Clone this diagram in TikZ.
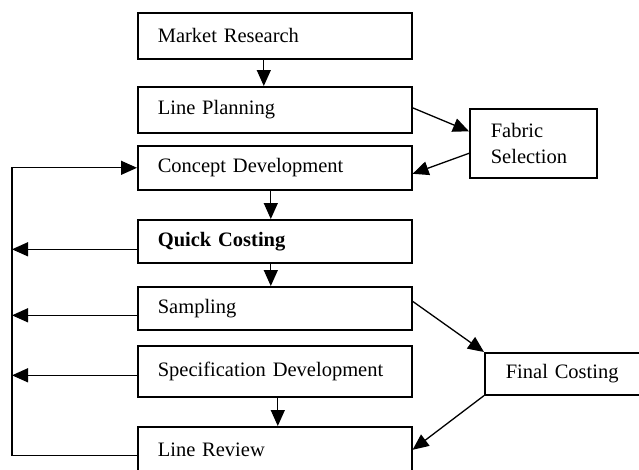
\documentclass[tikz,border=0pt]{standalone}
\usepackage{fontspec}
\setmainfont{Liberation Serif}
\usepackage{tikz}
\usetikzlibrary{arrows.meta, positioning}

\begin{document}
\begin{tikzpicture}[
    x=1pt, y=-1pt,
    every node/.style={
    font=\fontsize{20.5}{26}\selectfont,
    draw,
    line width=1.6pt,
    anchor=north west,
    inner ysep=0pt,
    align=left},
    stage/.style={
    minimum width=274pt,
    text width=234pt,
    inner xsep=20pt},
    side/.style={
    inner xsep=21pt},
    >={Triangle[length=16pt, width=14pt]}]
    \clip (0,0) rectangle (639,469);
    \node[stage, minimum height=46pt] (market) at (137,12) {Market Research};
    \node[stage, minimum height=46pt] (planning) at (137,86) {Line Planning};
    \node[stage, minimum height=44pt] (concept) at (137,145) {Concept Development};
    \node[stage, minimum height=43pt] (quick) at (137,219) {\textbf{Quick Costing}};
    \node[stage, minimum height=43pt] (sampling) at (137,286) {Sampling};
    \node[stage, minimum height=51pt] (spec) at (137,345) {Specification Development};
    \node[stage, minimum height=46pt] (review) at (137,426) {Line Review};
    \node[side, text width=85pt, minimum height=69pt] (fabric) at (469,108) {Fabric\\Selection};
    \node[side, text width=134pt, minimum height=42pt] (final) at (484,352) {Final Costing};
    \coordinate (rail) at (12,0);
    \begin{scope}[line width=1.3pt]
        \draw[->] ([xshift=-11pt]market.south) -- ([xshift=-11pt]planning.north);
        \draw[->] ([xshift=-4pt]concept.south) -- ([xshift=-4pt]quick.north);
        \draw[->] ([xshift=-4pt]quick.south) -- ([xshift=-4pt]sampling.north);
        \draw[->] ([xshift=3pt]spec.south) -- ([xshift=3pt]review.north);
        \draw[->] ([yshift=2pt]planning.east) -- ([yshift=12pt]fabric.west);
        \draw[->] ([yshift=-10pt]fabric.west) -- ([yshift=-6pt]concept.east);
        \draw[->] ([yshift=7pt]sampling.east) -- (final.north west);
        \draw[->] (final.south west) -- (review.east);
        \draw[->] ([yshift=-6pt]review.west) -| (rail |- concept.west) -- (concept.west);
        \draw[->] ([yshift=-8pt]quick.west) coordinate (qout) -- (rail |- qout);
        \draw[->] ([yshift=-7pt]sampling.west) coordinate (sout) -- (rail |- sout);
        \draw[->] ([yshift=-4pt]spec.west) coordinate (spout) -- (rail |- spout);
    \end{scope}
\end{tikzpicture}
\end{document}
